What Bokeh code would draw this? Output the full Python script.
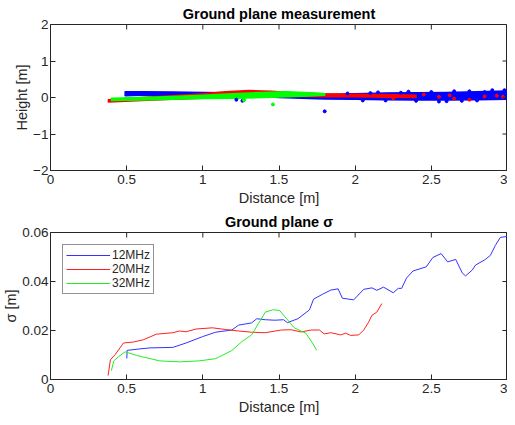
import math
from bokeh.plotting import figure
from bokeh.layouts import column
from bokeh.models import FixedTicker, Range1d, Legend, LegendItem
from bokeh.embed import file_html
from bokeh.resources import INLINE

# ---------------- data: ground plane point clouds (band outlines) ----
blue_x = [0.49, 0.6, 0.8, 1.0, 1.2, 1.4, 1.5, 1.65, 1.8, 2.0, 2.2, 2.4, 2.6, 2.8, 3.0]
blue_hi = [0.16, 0.16, 0.15, 0.14, 0.13, 0.12, 0.11, 0.08, 0.08, 0.10, 0.12, 0.13, 0.14, 0.16, 0.18]
blue_lo = [0.05, 0.06, 0.06, 0.06, 0.05, 0.03, 0.00, -0.02, -0.04, -0.05, -0.06, -0.07, -0.07, -0.06, -0.05]

red_x = [0.38, 0.6, 0.8, 1.0, 1.15, 1.3, 1.45, 1.6, 1.8, 2.0, 2.2, 2.4]
red_hi = [-0.06, 0.0, 0.05, 0.10, 0.16, 0.19, 0.17, 0.13, 0.10, 0.09, 0.08, 0.06]
red_lo = [-0.12, -0.08, -0.05, -0.02, 0.0, 0.03, 0.03, 0.03, 0.02, 0.02, 0.01, 0.0]

green_x = [0.40, 0.6, 0.8, 1.0, 1.2, 1.4, 1.55, 1.7, 1.8]
green_hi = [-0.02, 0.0, 0.03, 0.06, 0.10, 0.14, 0.16, 0.13, 0.10]
green_lo = [-0.08, -0.07, -0.05, -0.03, -0.02, 0.0, 0.02, 0.04, 0.06]

blue_dots_x = [1.80, 1.26, 1.22, 2.90, 2.75, 2.50, 2.30, 2.10, 2.60, 2.70, 2.20, 2.95, 2.85, 2.40,
               2.05, 2.35, 2.55, 2.65, 2.80, 2.98, 1.95, 2.15]
blue_dots_y = [-0.38, -0.09, -0.06, 0.20, 0.17, 0.15, 0.13, 0.12, -0.10, -0.09, -0.08, 0.12, 0.15, -0.09,
               -0.08, 0.16, -0.11, 0.17, -0.08, 0.20, 0.11, 0.14]
red_dots_x = [2.32, 2.45, 2.55, 2.65, 2.75, 2.85, 2.93, 2.97, 2.25, 2.62]
red_dots_y = [0.04, 0.08, 0.02, -0.03, -0.06, 0.03, 0.05, 0.02, -0.02, 0.06]
green_dots_x = [1.46, 1.27]
green_dots_y = [-0.19, -0.07]

# ---------------- data: ground plane sigma ----------------
d12 = [0.501, 0.503, 0.587, 0.652, 0.803, 0.89, 0.998, 1.084, 1.19, 1.235, 1.32, 1.354, 1.41, 1.473,
       1.53, 1.555, 1.624, 1.70, 1.727, 1.786, 1.84, 1.888, 1.916, 1.99, 2.056, 2.11, 2.142, 2.186,
       2.25, 2.283, 2.305, 2.337, 2.38, 2.467, 2.51, 2.564, 2.607, 2.66, 2.704, 2.725, 2.769, 2.79,
       2.855, 2.888, 2.92, 2.953, 3.0]
s12 = [0.0086, 0.0119, 0.0125, 0.0129, 0.0131, 0.0149, 0.0175, 0.0193, 0.0202, 0.0222, 0.0231, 0.0248,
       0.0244, 0.0242, 0.0244, 0.0232, 0.0248, 0.0284, 0.0328, 0.0348, 0.0365, 0.0370, 0.0332, 0.0325,
       0.0368, 0.0374, 0.0364, 0.0377, 0.0354, 0.0372, 0.0372, 0.0414, 0.0443, 0.0460, 0.0498, 0.0514,
       0.0480, 0.0490, 0.0434, 0.0423, 0.0447, 0.0467, 0.0490, 0.0507, 0.0547, 0.0580, 0.0584]

d20 = [0.378, 0.393, 0.425, 0.479, 0.544, 0.609, 0.695, 0.803, 0.847, 0.89, 0.955, 1.063, 1.149, 1.235,
       1.32, 1.41, 1.516, 1.58, 1.646, 1.71, 1.765, 1.797, 1.84, 1.905, 1.937, 1.97, 2.024, 2.056,
       2.089, 2.11, 2.142, 2.175]
s20 = [0.0016, 0.0080, 0.0102, 0.0149, 0.0153, 0.0162, 0.0185, 0.0191, 0.0198, 0.0195, 0.0206, 0.0211,
       0.0204, 0.0198, 0.0193, 0.0191, 0.0202, 0.0203, 0.0194, 0.0202, 0.0202, 0.0186, 0.0191, 0.0182,
       0.0189, 0.0180, 0.0182, 0.0202, 0.0235, 0.0262, 0.0275, 0.0310]

d32 = [0.40, 0.415, 0.447, 0.49, 0.566, 0.717, 0.847, 0.976, 1.084, 1.19, 1.257, 1.32, 1.365, 1.41,
       1.462, 1.505, 1.55, 1.60, 1.676, 1.72, 1.747]
s32 = [0.0036, 0.0076, 0.0093, 0.0113, 0.0098, 0.0076, 0.0072, 0.0076, 0.0085, 0.0118, 0.0155, 0.0182,
       0.0228, 0.0275, 0.0285, 0.0281, 0.0248, 0.0211, 0.0189, 0.0149, 0.0119]

x_ticks = [0, 0.5, 1, 1.5, 2, 2.5, 3]
top_y_ticks = [-2, -1, 0, 1, 2]
bot_y_ticks = [0, 0.02, 0.04, 0.06]

BLUE, RED, GREEN = "#0000ff", "#ff0000", "#00ff00"
AX = "#262626"
FONT = "Liberation Sans"


def style(p, yticks, ymax, title_standoff):
    p.title.align = "center"
    p.title.text_font = FONT
    p.title.text_font_size = "14.5px"
    p.title.text_font_style = "bold"
    p.title.text_color = "#000000"
    p.title.text_line_height = 0.8
    p.title.standoff = title_standoff
    p.title.offset = 0
    p.xgrid.visible = False
    p.ygrid.visible = False
    p.outline_line_color = AX
    p.outline_line_width = 1
    p.background_fill_color = "white"
    p.border_fill_color = "white"
    for ax in p.xaxis:
        ax.ticker = FixedTicker(ticks=x_ticks)
        ax.major_label_standoff = 4
        ax.axis_label_standoff = 3
    for ax in p.yaxis:
        ax.ticker = FixedTicker(ticks=yticks)
        ax.major_label_standoff = 2
        ax.axis_label_standoff = 0
    for ax in list(p.xaxis) + list(p.yaxis):
        ax.major_tick_in = 5
        ax.major_tick_out = 0
        ax.minor_tick_line_color = None
        ax.axis_line_color = AX
        ax.major_tick_line_color = AX
        ax.major_label_text_font = FONT
        ax.major_label_text_font_size = "13.5px"
        ax.major_label_text_color = AX
        ax.axis_label_text_font = FONT
        ax.axis_label_text_font_size = "14.5px"
        ax.axis_label_text_font_style = "normal"
        ax.axis_label_text_color = AX
    # mirrored tick marks on top and right edges (MATLAB box); half of each dash is clipped
    p.scatter(x_ticks, [ymax] * len(x_ticks), marker="dash", angle=math.pi / 2, size=10,
              line_color=AX, line_width=1)
    p.scatter([3] * len(yticks), yticks, marker="dash", size=10, line_color=AX, line_width=1)


# ---------------- top figure ----------------
p1 = figure(width=507, height=208, output_backend="svg", toolbar_location=None,
            title="Ground plane measurement",
            x_range=Range1d(0, 3), y_range=Range1d(-2, 2),
            min_border=0, min_border_left=41)
p1.xaxis.axis_label = "Distance [m]"
p1.yaxis.axis_label = "Height [m]"

for xs, hi, lo, c in [(blue_x, blue_hi, blue_lo, BLUE), (red_x, red_hi, red_lo, RED),
                      (green_x, green_hi, green_lo, GREEN)]:
    p1.patch(xs + xs[::-1], hi + lo[::-1], fill_color=c, line_color=c, line_width=1.5,
             line_join="round")
p1.scatter(blue_dots_x, blue_dots_y, size=3, color=BLUE)
p1.scatter(red_dots_x, red_dots_y, size=3, color=RED)
p1.scatter(green_dots_x, green_dots_y, size=3, color=GREEN)
style(p1, top_y_ticks, 2, 6)

# ---------------- bottom figure ----------------
p2 = figure(width=507, height=209, output_backend="svg", toolbar_location=None,
            title="Ground plane σ",
            x_range=Range1d(0, 3), y_range=Range1d(0, 0.06),
            min_border=0, min_border_left=41)
p2.xaxis.axis_label = "Distance [m]"
p2.yaxis.axis_label = "σ [m]"

r12 = p2.line(d12, s12, line_color="#3333ff", line_width=1)
r20 = p2.line(d20, s20, line_color="#ff2020", line_width=1)
r32 = p2.line(d32, s32, line_color="#22ee22", line_width=1)
style(p2, bot_y_ticks, 0.06, 6)

legend = Legend(items=[LegendItem(label="12MHz", renderers=[r12]),
                       LegendItem(label="20MHz", renderers=[r20]),
                       LegendItem(label="32MHz", renderers=[r32])],
                location="top_left")
legend.label_text_font = FONT
legend.label_text_font_size = "12px"
legend.label_text_color = AX
legend.border_line_color = AX
legend.border_line_width = 1
legend.glyph_width = 44
legend.glyph_height = 14
legend.label_height = 14
legend.spacing = 0
legend.padding = 3
legend.margin = 12
legend.label_standoff = 2
p2.add_layout(legend)

layout = column(p1, p2, spacing=0)
open("out.html", "w").write(file_html(layout, INLINE))
